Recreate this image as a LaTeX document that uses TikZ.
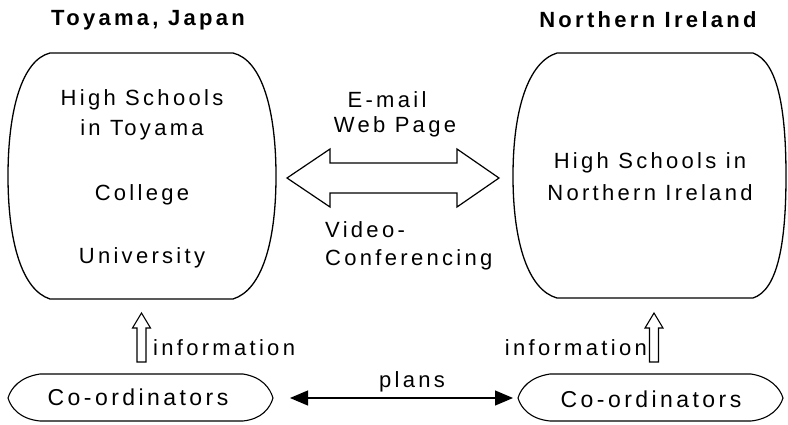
\documentclass[tikz,border=0pt]{standalone}
\usepackage{fontspec}
\setmainfont{Liberation Sans}[LetterSpace=15]
\usetikzlibrary{arrows.meta}
\begin{document}
\begin{tikzpicture}[x=1pt,y=-1pt,
  txt/.style={inner sep=0pt,font=\fontsize{22}{26}\selectfont},
  ctxt/.style={inner sep=0pt,font=\fontsize{23}{26}\selectfont},
  ttl/.style={inner sep=0pt,font=\fontsize{22}{26}\selectfont\bfseries},
  outline/.style={draw=black,line width=1.3pt,line join=round},
  hollow/.style={draw=black,line width=1.1pt,fill=white,line join=miter}]
\useasboundingbox (0,0) rectangle (788,424);

% titles
\node[ttl] (tl) at (148,20) {Toyama, Japan};
\node[ttl] (tr) at (648,20) {Northern Ireland};

% left big box
\draw[outline] (50,53) -- (233,53) .. controls (262,60) and (276,110) .. (276,176)
  .. controls (276,242) and (262,290) .. (233,299) -- (50,299)
  .. controls (22,290) and (8,242) .. (8,176) .. controls (8,110) and (22,60) .. (50,53) -- cycle;
\coordinate (lbR) at (276,176);
\node[txt] (l1) at (142,100) {High Schools};
\node[txt] (l2) at (142,130) {in Toyama};
\node[txt] (l3) at (142,195) {College};
\node[txt] (l4) at (142,258) {University};

% right big box
\draw[outline] (557,53) -- (753,53) .. controls (778,62) and (786,110) .. (786,176)
  .. controls (786,242) and (778,290) .. (753,298) -- (557,298)
  .. controls (528,290) and (513,242) .. (513,176) .. controls (513,110) and (528,62) .. (557,53) -- cycle;
\coordinate (rbL) at (513,176);
\node[txt] (r1) at (650,163) {High Schools in};
\node[txt] (r2) at (650,193) {Northern Ireland};

% middle hollow double arrow
\coordinate (al) at (287,178);
\coordinate (ar) at (499,178);
\draw[hollow,line width=1.2pt] (al) -- (330,149) -- (330,163) -- (457,163) -- (457,149) -- (ar)
  -- (457,207) -- (457,193) -- (330,193) -- (330,207) -- cycle;
\node[txt] (m1) at (387,100) {E-mail};
\node[txt] (m2) at (395,127) {Web Page};
\node[txt,anchor=west] (m3) at (325,230) {Video-};
\node[txt,anchor=west] (m4) at (325,260) {Conferencing};

% coordinators
\draw[outline,line width=1.1pt] (40,374) -- (243,374) .. controls (262,377) and (270,388) .. (273,398)
  .. controls (270,408) and (262,419) .. (243,421) -- (40,421)
  .. controls (20,419) and (11,408) .. (8,398) .. controls (11,388) and (20,377) .. (40,374) -- cycle;
\coordinate (clR) at (273,398);
\node[ctxt] (c1) at (138,397) {Co-ordinators};

\draw[outline,line width=1.1pt] (550,374) -- (751,374) .. controls (770,377) and (780,388) .. (783,398)
  .. controls (780,408) and (770,419) .. (751,421) -- (550,421)
  .. controls (530,419) and (521,408) .. (518,398) .. controls (521,388) and (530,377) .. (550,374) -- cycle;
\coordinate (crL) at (518,398);
\node[ctxt] (c2) at (651,399) {Co-ordinators};

% plans arrow
\draw[line width=1.1pt,{Triangle[length=18pt,width=15pt]}-{Triangle[length=18pt,width=15pt]},shorten <=17pt,shorten >=5pt] (clR) -- (crL);
\node[txt] (pl) at (412,382) {plans};

% up hollow arrows
\draw[hollow] (141.5,313) -- (150.5,328) -- (146,328) -- (146,362) -- (137,362) -- (137,328) -- (132.5,328) -- cycle;
\node[txt,anchor=west] (i1) at (153,348) {information};
\draw[hollow] (654,313) -- (663,328) -- (658.5,328) -- (658.5,362) -- (649.5,362) -- (649.5,328) -- (645,328) -- cycle;
\node[txt,anchor=east] (i2) at (647,348) {information};
\end{tikzpicture}
\end{document}
